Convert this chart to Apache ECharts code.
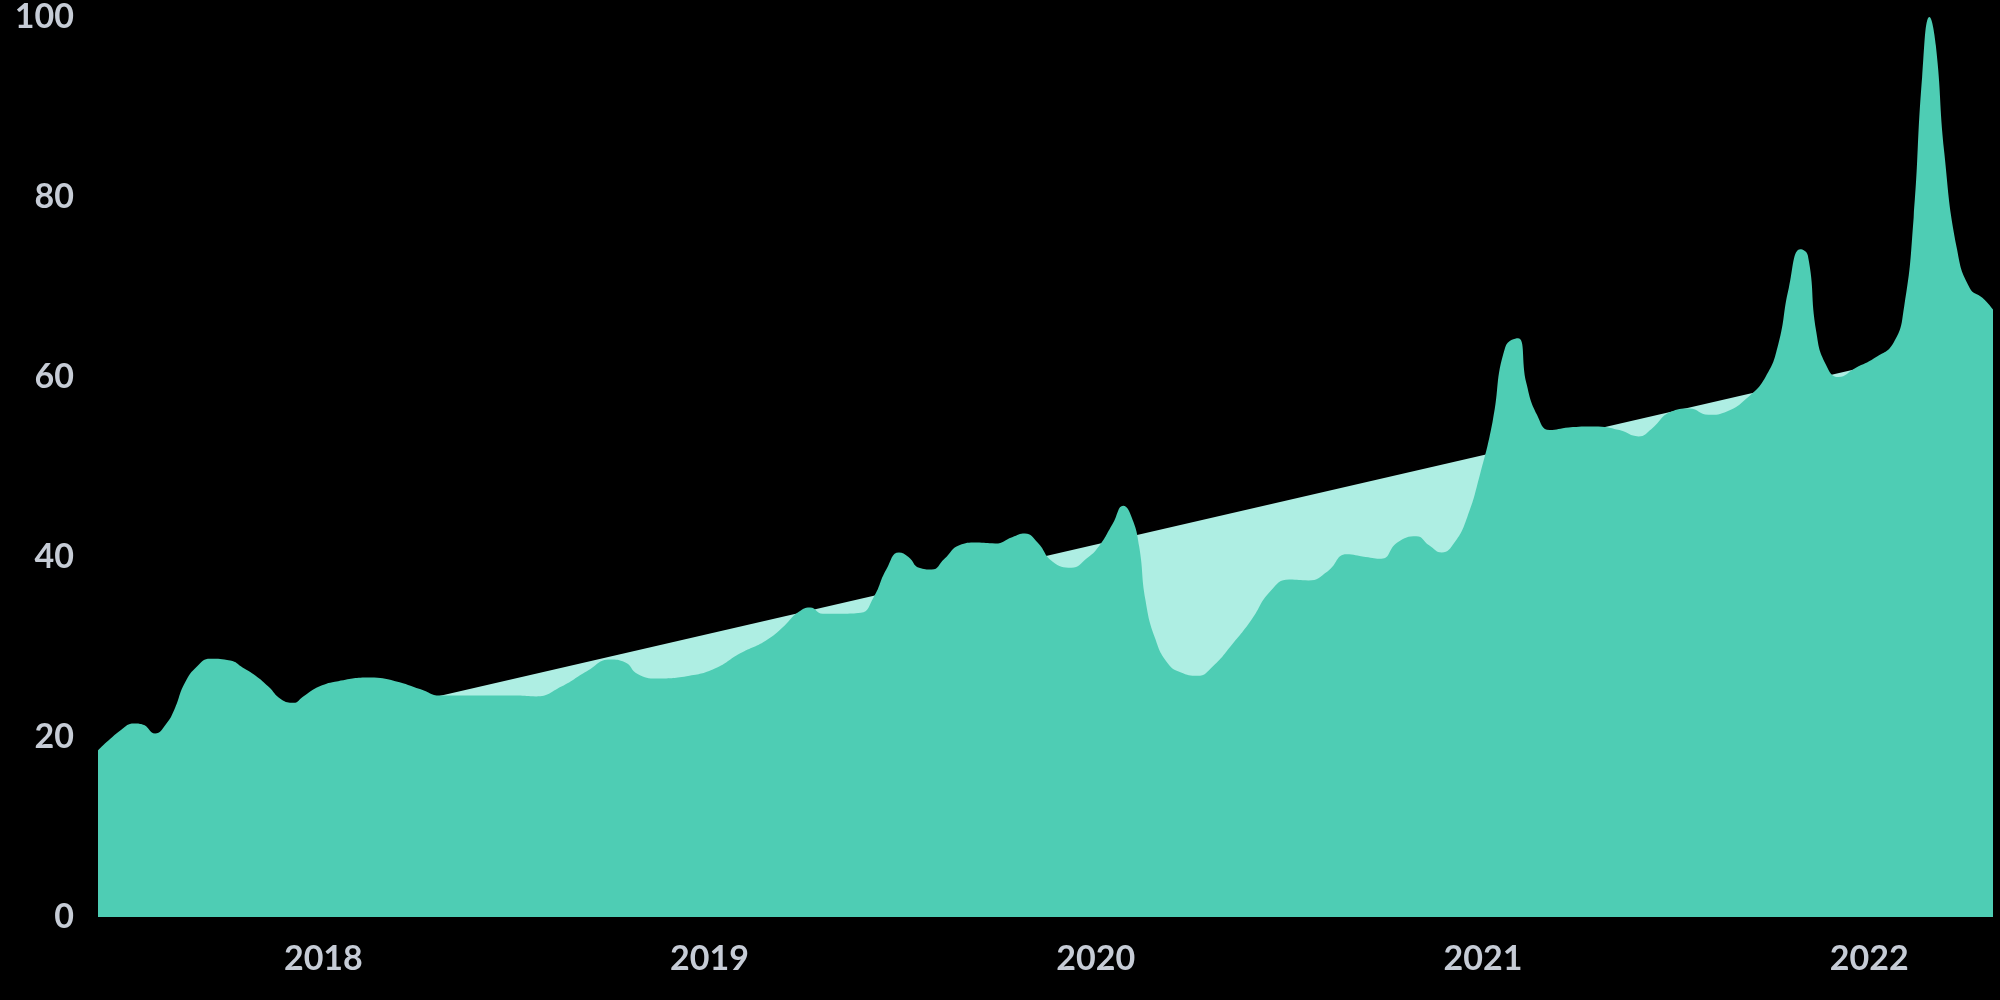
<!DOCTYPE html>
<html>
<head>
<meta charset="utf-8">
<script src="https://cdn.jsdelivr.net/npm/echarts@6/dist/echarts.min.js"></script>
<style>
html,body{margin:0;padding:0;background:#000;}
#c{width:2000px;height:1000px;}
</style>
</head>
<body>
<div id="c"></div>
<script>
// Interest over time (main series)
const dates = [
"2017-06-02","2017-06-24","2017-07-06","2017-07-14","2017-07-26","2017-08-05","2017-08-13","2017-08-23",
"2017-09-04","2017-09-16","2017-10-05","2017-10-17","2017-10-29","2017-11-10","2017-11-22","2017-12-04",
"2017-12-13","2017-12-28","2018-01-15","2018-02-14","2018-03-10","2018-04-03","2018-04-21","2018-05-09",
"2018-06-02","2018-07-03","2018-07-21","2018-08-14","2018-09-07","2018-09-29","2018-10-13","2018-10-25",
"2018-11-12","2018-12-13","2019-01-06","2019-01-30","2019-02-23","2019-03-13","2019-03-25","2019-04-06",
"2019-04-18","2019-05-06","2019-05-24","2019-06-05","2019-06-17","2019-06-29","2019-07-08","2019-07-18",
"2019-07-30","2019-08-11","2019-08-25","2019-09-10","2019-09-28","2019-10-14","2019-10-26","2019-11-07",
"2019-11-21","2019-12-09","2019-12-23","2020-01-04","2020-01-17","2020-01-27","2020-02-04","2020-02-11",
"2020-02-17","2020-02-26","2020-03-09","2020-03-21","2020-04-06","2020-04-21","2020-05-09","2020-05-27",
"2020-06-14","2020-07-02","2020-07-20","2020-08-07","2020-08-25","2020-09-12","2020-09-27","2020-10-12",
"2020-10-30","2020-11-11","2020-11-23","2020-12-05","2020-12-17","2020-12-29","2021-01-10","2021-01-22",
"2021-02-03","2021-02-11","2021-02-21","2021-03-05","2021-03-23","2021-04-16","2021-05-10","2021-05-28",
"2021-06-09","2021-06-27","2021-07-15","2021-08-02","2021-08-20","2021-09-07","2021-09-25","2021-10-07",
"2021-10-17","2021-10-28","2021-11-04","2021-11-12","2021-11-21","2021-12-03","2021-12-19","2022-01-06",
"2022-01-24","2022-02-03","2022-02-12","2022-02-20","2022-02-27","2022-03-05","2022-03-13","2022-03-25",
"2022-04-06","2022-04-18","2022-04-28"
];
const values = [
18.5,20.8,21.5,21.4,20.4,21.4,23,26,
27.9,28.7,28.5,27.7,26.8,25.6,24.2,23.8,
24.5,25.6,26.2,26.6,26.2,25.3,24.6,24.6,
24.6,24.6,24.5,25.6,27.3,28.6,28.3,27,
26.5,26.8,27.6,29.3,30.7,32.4,33.8,34.4,
33.7,33.7,33.8,35.5,38.6,40.5,40,38.8,
38.6,39.8,41.3,41.6,41.5,42.2,42.6,41.6,
39.5,38.8,39.8,41.2,43.7,45.7,44.4,41.2,
35.2,31,28.2,27.2,26.8,27.9,30.3,33,
36.2,37.5,37.4,38.4,40.3,40,39.8,41.6,
42.3,41.3,40.5,41.6,44.4,49.1,55,63.3,
64.3,59.3,55.8,54.1,54.4,54.5,54.1,53.4,
54.2,56.1,56.5,55.8,56.2,57.6,60,63.6,
69.9,74.2,73.5,65,61.4,60,61,62.1,
63.8,67.8,77.7,93.3,100,96.8,84.9,74.2,
69.9,68.8,67.5
];
// Linear trend (endpoints)
const trendDates = ["2017-06-02","2022-04-28"];
const trendValues = [15.8,64.4];
const yTicks = [0,20,40,60,80,100];

const mainData = dates.map((d,i)=>[d,values[i]]);
const trendData = trendDates.map((d,i)=>[d,trendValues[i]]);

const chart = echarts.init(document.getElementById('c'), null, {renderer:'canvas'});
const labelColor = '#c6ccd6';
chart.setOption({
  backgroundColor:'#000000',
  animation:false,
  grid:{left:98,right:7,top:16,bottom:83},
  xAxis:{
    type:'time',
    min:dates[0],
    max:dates[dates.length-1],
    axisLine:{show:false},
    axisTick:{show:false},
    splitLine:{show:false},
    axisLabel:{
      color:labelColor,
      fontFamily:'Lato',
      fontWeight:'bold',
      fontSize:34,
      margin:25,
      showMinLabel:false,
      showMaxLabel:false,
      formatter:function(v){
        const d=new Date(v);
        if(d.getMonth()===0 && d.getDate()===1) return String(d.getFullYear());
        return '';
      }
    }
  },
  yAxis:{
    type:'value',
    min:yTicks[0],
    max:yTicks[yTicks.length-1],
    interval:20,
    axisLine:{show:false},
    axisTick:{show:false},
    splitLine:{show:false},
    axisLabel:{
      color:labelColor,
      fontFamily:'Lato',
      fontWeight:'bold',
      fontSize:34,
      margin:24
    }
  },
  series:[
    {
      type:'line',
      data:trendData,
      showSymbol:false,
      lineStyle:{width:0},
      areaStyle:{color:'#aeeee3',opacity:1},
      z:1
    },
    {
      type:'line',
      data:mainData,
      smooth:0.5,
      showSymbol:false,
      lineStyle:{width:0},
      areaStyle:{color:'#4ecdb4',opacity:1},
      z:2
    }
  ]
});
</script>
</body>
</html>
